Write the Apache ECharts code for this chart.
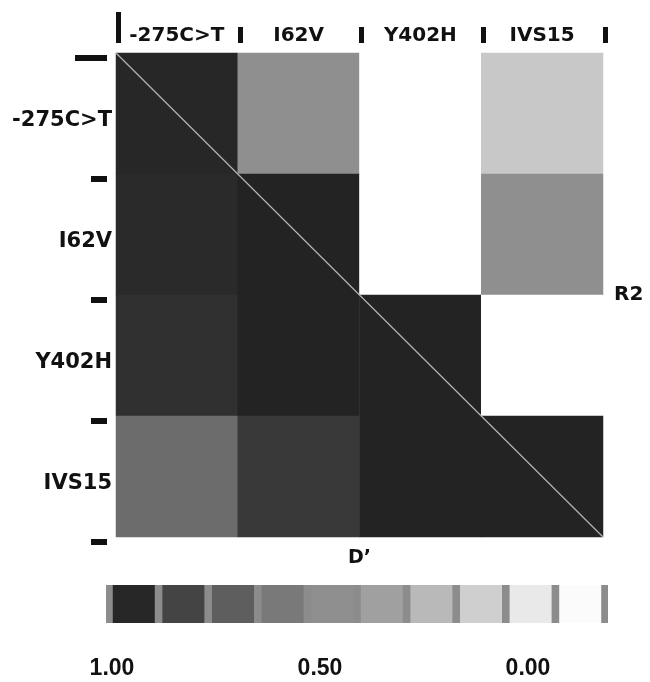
<!DOCTYPE html>
<html lang="en">
<head>
    <meta charset="UTF-8">
    <title>LD plot</title>
    <script src="https://cdn.jsdelivr.net/npm/echarts@6/dist/echarts.min.js"></script>
</head>
<body style="margin:0">
<div id="main" style="width: 650px;height:682px;"></div>
<script type="text/javascript">
    // SNP names, rows top->bottom and columns left->right
    var snps = ['-275C>T', 'I62V', 'Y402H', 'IVS15'];
    // lower triangle = D', upper triangle = R2
    var ldRows = [
        [0.98, 0.51, 0.00, 0.25],
        [0.97, 1.00, 0.00, 0.51],
        [0.94, 1.00, 1.00, 0.00],
        [0.67, 0.90, 1.00, 1.00]
    ];
    // grey blocks of the scale bar, left -> right
    var scaleLevels = [0.98, 0.85, 0.73, 0.61, 0.51, 0.43, 0.32, 0.22, 0.10, 0.02];
    var scaleTicks = [1, 0.5, 0];
    var boundaries = [0, 1, 2, 3, 4];
    var diagonal = [[0, 0], [4, 4]];

    var heatData = [];
    ldRows.forEach(function (row, r) {
        row.forEach(function (v, c) {
            heatData.push([c, r, v]);
        });
    });

    var font = "'DejaVu Sans', sans-serif";
    var myChart = echarts.init(document.getElementById('main'));

    var tickLine = {color: '#111', width: 5};
    var sideTick = {color: '#111', width: 6};

    // invisible value axis that only draws the thick boundary ticks
    function tickAxis(extra) {
        return Object.assign({
            gridIndex: 1, type: 'value', min: 0, max: 4,
            axisLine: {show: false, onZero: false}, axisLabel: {show: false}, splitLine: {show: false}
        }, extra);
    }

    myChart.setOption({
        animation: false,
        grid: [
            {left: 116, top: 53, width: 487, height: 484, outerBoundsMode: 'none'},
            {left: 118, top: 58, width: 487, height: 484, outerBoundsMode: 'none'},
            {left: 106, top: 585, width: 502, height: 38, show: true, borderWidth: 0,
                backgroundColor: '#8c8c8c', outerBoundsMode: 'none'}
        ],
        visualMap: {
            show: false,
            type: 'continuous',
            min: 0,
            max: 1,
            dimension: 2,
            seriesIndex: [0, 2],
            inRange: {color: ['#ffffff', '#232323']}
        },
        xAxis: [
            {
                gridIndex: 0, type: 'category', position: 'top', data: snps,
                axisLine: {show: false}, axisTick: {show: false},
                axisLabel: {interval: 0, margin: 7, fontFamily: font, fontWeight: 'bold', fontSize: 20, color: '#111'}
            },
            {
                gridIndex: 0, type: 'category', position: 'bottom', data: snps,
                axisLine: {show: false}, axisTick: {show: false}, axisLabel: {show: false},
                name: 'D\u2019', nameLocation: 'middle', nameGap: 12,
                nameTextStyle: {fontFamily: font, fontWeight: 'bold', fontSize: 19, color: '#111'}
            },
            {gridIndex: 0, type: 'value', min: 0, max: 4, show: false},
            tickAxis({position: 'top', offset: 15,
                axisTick: {show: true, length: 16, customValues: boundaries, lineStyle: tickLine}}),
            tickAxis({position: 'top', offset: 15,
                axisTick: {show: true, length: 31, customValues: [0], lineStyle: tickLine}}),
            {gridIndex: 2, type: 'value', position: 'top', min: -0.56, max: 9.56, show: false},
            {
                gridIndex: 2, type: 'value', position: 'bottom', inverse: true, min: -0.1923, max: 1.0144,
                axisLine: {show: false, onZero: false}, axisTick: {show: false}, splitLine: {show: false},
                axisLabel: {
                    customValues: scaleTicks, margin: 34,
                    fontFamily: "'Liberation Sans', Arial, sans-serif", fontWeight: 'bold', fontSize: 23, color: '#111',
                    formatter: function (v) { return v.toFixed(2); }
                }
            }
        ],
        yAxis: [
            {
                gridIndex: 0, type: 'category', inverse: true, position: 'left', data: snps,
                axisLine: {show: false}, axisTick: {show: false},
                axisLabel: {
                    interval: 0, margin: 4,
                    formatter: function (v) { return '{s|' + v + '}'; },
                    rich: {s: {padding: [14, 0, 0, 0], fontFamily: font, fontWeight: 'bold', fontSize: 21, color: '#111'}}
                }
            },
            {
                gridIndex: 0, type: 'category', inverse: true, position: 'right', data: snps,
                axisLine: {show: false}, axisTick: {show: false}, axisLabel: {show: false},
                name: 'R2', nameLocation: 'middle', nameRotate: 0, nameGap: 11,
                nameTextStyle: {fontFamily: font, fontWeight: 'bold', fontSize: 20, color: '#111', align: 'left'}
            },
            {gridIndex: 0, type: 'value', inverse: true, min: 0, max: 4, show: false},
            tickAxis({position: 'left', inverse: true, offset: 11,
                axisTick: {show: true, length: 16, customValues: boundaries, lineStyle: sideTick}}),
            tickAxis({position: 'left', inverse: true, offset: 11,
                axisTick: {show: true, length: 32, customValues: [0], lineStyle: sideTick}}),
            {gridIndex: 2, type: 'value', min: 0, max: 1, show: false}
        ],
        series: [
            {
                type: 'heatmap',
                xAxisIndex: 0,
                yAxisIndex: 0,
                data: heatData,
                emphasis: {disabled: true}
            },
            {
                type: 'line',
                xAxisIndex: 2,
                yAxisIndex: 2,
                data: diagonal,
                symbol: 'none',
                silent: true,
                lineStyle: {color: '#b4b4b4', width: 1.2}
            },
            {
                type: 'bar',
                xAxisIndex: 5,
                yAxisIndex: 5,
                barWidth: 42,
                data: scaleLevels.map(function (v, i) { return [i, 1, v]; }),
                encode: {x: 0, y: 1},
                silent: true
            }
        ]
    });
</script>
</body>
</html>
